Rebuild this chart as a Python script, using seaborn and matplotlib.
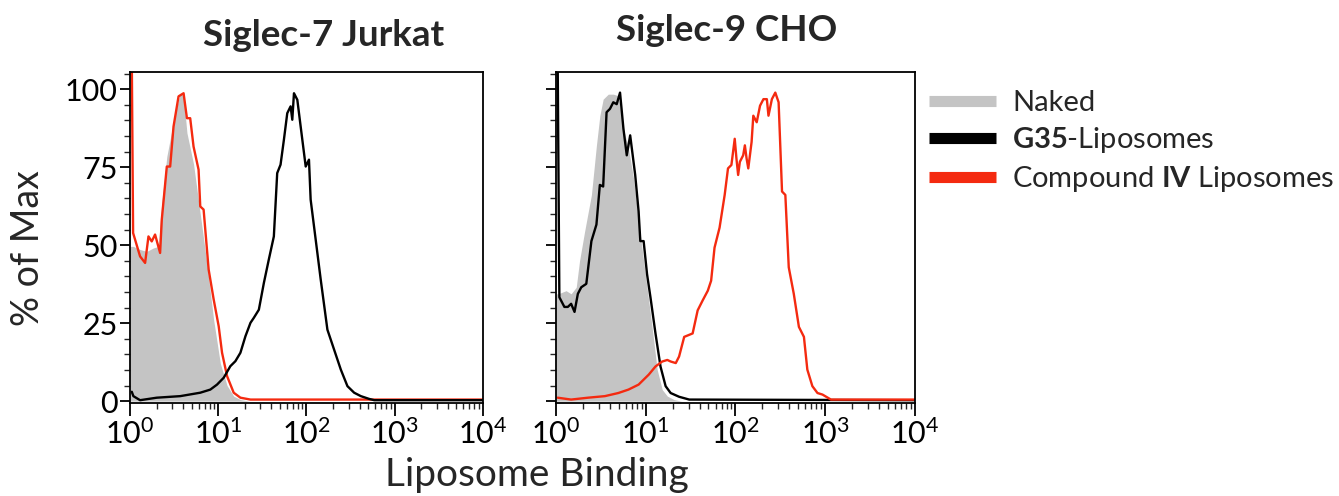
import numpy as np
import pandas as pd
import matplotlib
matplotlib.use("Agg")
import matplotlib.pyplot as plt
from matplotlib.ticker import LogLocator, FixedLocator, MultipleLocator, NullFormatter
from matplotlib.lines import Line2D
import seaborn as sns

# ---- data (x stored as log10 of binding intensity, y as % of max) ----
# Siglec-7 Jurkat
s7_naked_log = [0.0, 0.038, 0.114, 0.190, 0.265, 0.322, 0.360, 0.417, 0.512, 0.569, 0.607,
                0.645, 0.720, 0.796, 0.872, 0.948, 1.024, 1.100, 1.175, 1.251, 1.35, 4.0]
s7_naked_pct = [49.6, 49.6, 48.6, 48.0, 49.1, 49.6, 63.5, 78.4, 92.3, 98.7, 97.7,
                86.0, 76.0, 60.0, 44.0, 26.0, 12.0, 5.0, 1.6, 0.5, 0.0, 0.0]

s7_g35_log = [0.02, 0.038, 0.114, 0.303, 0.569, 0.796, 0.910, 0.986, 1.062, 1.137, 1.194,
              1.251, 1.308, 1.365, 1.403, 1.460, 1.517, 1.573, 1.630, 1.668, 1.706, 1.744,
              1.782, 1.820, 1.839, 1.858, 1.896, 1.934, 1.991, 2.028, 2.047, 2.104, 2.161,
              2.237, 2.313, 2.389, 2.464, 2.540, 2.616, 2.711, 2.768, 4.0]
s7_g35_pct = [3.0, 1.6, 0.3, 1.1, 1.6, 2.7, 3.7, 5.3, 7.5, 11.2, 12.8,
              15.5, 20.8, 25.1, 26.7, 29.3, 37.9, 45.4, 52.8, 73.1, 75.8, 83.8,
              92.3, 94.5, 90.2, 98.7, 96.6, 88.0, 75.2, 77.4, 64.6, 51.8, 39.0,
              22.9, 16.5, 10.1, 4.8, 2.7, 1.6, 0.7, 0.3, 0.3]

s7_cmpd_log = [0.02, 0.035, 0.114, 0.171, 0.209, 0.246, 0.284, 0.341, 0.360, 0.417, 0.455,
               0.493, 0.550, 0.607, 0.645, 0.682, 0.720, 0.777, 0.796, 0.834, 0.891, 0.948,
               1.005, 1.043, 1.100, 1.175, 1.251, 1.365, 4.0]
s7_cmpd_pct = [110.0, 53.9, 46.4, 44.3, 52.8, 51.2, 53.4, 47.5, 58.2, 75.2, 75.2,
               88.0, 97.7, 98.7, 90.7, 90.7, 81.6, 74.2, 62.4, 61.4, 42.2, 32.6,
               24.0, 15.5, 8.0, 2.7, 1.1, 0.5, 0.5]

# Siglec-9 CHO
s9_naked_log = [0.0, 0.026, 0.113, 0.169, 0.226, 0.263, 0.320, 0.395, 0.451, 0.489, 0.526,
                0.583, 0.639, 0.695, 0.752, 0.808, 0.865, 0.921, 0.996, 1.071, 1.128,
                1.184, 1.241, 1.316, 1.40, 4.0]
s9_naked_pct = [34.4, 34.4, 35.4, 34.4, 36.5, 45.0, 54.5, 66.1, 82.0, 91.5, 96.8,
                98.4, 98.4, 97.9, 87.3, 81.0, 71.4, 57.7, 40.7, 23.8, 10.1,
                3.7, 1.6, 0.5, 0.0, 0.0]

s9_g35_log = [0.019, 0.038, 0.094, 0.132, 0.169, 0.207, 0.244, 0.282, 0.338, 0.395, 0.451,
              0.489, 0.526, 0.564, 0.602, 0.639, 0.677, 0.714, 0.752, 0.789, 0.827, 0.883,
              0.921, 0.940, 0.977, 1.015, 1.053, 1.109, 1.165, 1.222, 1.278, 1.372, 1.485, 4.0]
s9_g35_pct = [110.0, 33.3, 30.2, 30.2, 31.2, 28.6, 34.4, 36.5, 37.6, 51.3, 56.6,
              69.3, 68.8, 92.6, 93.7, 95.8, 95.2, 98.9, 87.3, 78.8, 85.2, 72.5,
              60.8, 51.3, 51.3, 40.7, 33.3, 21.7, 11.1, 4.8, 2.6, 1.4, 0.5, 0.3]

s9_cmpd_log = [0.019, 0.169, 0.357, 0.545, 0.695, 0.808, 0.921, 1.034, 1.109, 1.184, 1.241,
               1.278, 1.335, 1.372, 1.429, 1.523, 1.579, 1.635, 1.692, 1.729, 1.767, 1.823,
               1.880, 1.917, 1.955, 1.992, 2.011, 2.030, 2.049, 2.086, 2.105, 2.124, 2.143,
               2.180, 2.199, 2.237, 2.274, 2.312, 2.350, 2.368, 2.406, 2.444, 2.481, 2.519,
               2.556, 2.594, 2.650, 2.707, 2.763, 2.801, 2.857, 2.914, 2.970, 3.064, 4.0]
s9_cmpd_pct = [1.1, 0.5, 1.1, 1.6, 2.6, 3.7, 5.3, 8.5, 11.1, 12.7, 13.2,
               12.7, 12.2, 14.3, 20.6, 21.7, 29.1, 32.3, 35.4, 38.6, 49.2, 55.6,
               66.1, 74.6, 75.7, 84.1, 77.8, 72.5, 76.7, 78.8, 82.0, 77.8, 74.6,
               83.1, 91.5, 89.4, 94.7, 96.8, 96.8, 91.5, 96.8, 98.9, 95.8, 67.2,
               66.1, 42.9, 34.4, 23.8, 20.6, 10.1, 4.8, 2.6, 2.1, 0.5, 0.5]

panel_titles = ["Siglec-7 Jurkat", "Siglec-9 CHO"]
legend_labels = ["Naked", r"$\mathbf{G35}$-Liposomes", r"Compound $\mathbf{IV}$ Liposomes"]
y_ticks = [0, 25, 50, 75, 100]

GREY = "#c4c4c4"
BLACK = "#000000"
RED = "#f42a10"

sns.set_theme(style="ticks")
plt.rcParams["font.family"] = ["Lato", "DejaVu Sans"]
plt.rcParams["mathtext.fontset"] = "custom"
plt.rcParams["mathtext.rm"] = "Lato"
plt.rcParams["mathtext.it"] = "Lato:italic"
plt.rcParams["mathtext.bf"] = "Lato:bold"


def make_frame(g35_log, g35_pct, cmpd_log, cmpd_pct):
    parts = []
    for name, lx, py in [("G35-Liposomes", g35_log, g35_pct),
                         ("Compound IV Liposomes", cmpd_log, cmpd_pct)]:
        parts.append(pd.DataFrame({"binding": 10 ** np.array(lx), "pct": py, "series": name}))
    return pd.concat(parts, ignore_index=True)


fig = plt.figure(figsize=(13.39, 4.96), dpi=100)
ax1 = fig.add_axes([0.0971, 0.1875, 0.2636, 0.6673])
ax2 = fig.add_axes([0.4152, 0.1875, 0.2681, 0.6673])

panels = [
    (ax1, s7_naked_log, s7_naked_pct, s7_g35_log, s7_g35_pct, s7_cmpd_log, s7_cmpd_pct),
    (ax2, s9_naked_log, s9_naked_pct, s9_g35_log, s9_g35_pct, s9_cmpd_log, s9_cmpd_pct),
]

for i, (ax, nl, npct, gl, gp, cl, cp) in enumerate(panels):
    ax.fill_between(10 ** np.array(nl), npct, 0, color=GREY, lw=0, zorder=1)
    df = make_frame(gl, gp, cl, cp)
    # the shifted curve is drawn on top in each panel
    hue_order = ["Compound IV Liposomes", "G35-Liposomes"] if i == 0 else ["G35-Liposomes", "Compound IV Liposomes"]
    sns.lineplot(data=df, x="binding", y="pct", hue="series", hue_order=hue_order,
                 palette={"G35-Liposomes": BLACK, "Compound IV Liposomes": RED},
                 estimator=None, sort=False, units="series", lw=1.7, legend=False, ax=ax)
    ax.set_xscale("log")
    ax.set_xlim(1, 1e4)
    ax.set_ylim(-0.6, 105.5)
    ax.set_xlabel("")
    ax.set_ylabel("")
    ax.xaxis.set_major_locator(LogLocator(base=10, numticks=10))
    ax.xaxis.set_minor_locator(LogLocator(base=10, subs=np.arange(2, 10), numticks=10))
    ax.xaxis.set_minor_formatter(NullFormatter())
    ax.yaxis.set_major_locator(FixedLocator(y_ticks))
    ax.yaxis.set_minor_locator(MultipleLocator(5))
    ax.tick_params(axis="both", which="major", direction="out", length=7, width=1.3,
                   labelsize=22, colors="black", pad=2)
    ax.tick_params(axis="both", which="minor", direction="out", length=4, width=1.0)
    ax.tick_params(axis="x", which="major", length=9)
    for sp in ax.spines.values():
        sp.set_visible(True)
        sp.set_linewidth(1.3)
        sp.set_color("black")
    if i == 1:
        ax.set_yticklabels([])

fig.text(0.242, 0.929, panel_titles[0], ha="center", va="center", fontsize=26.5, fontweight="bold")
fig.text(0.5425, 0.939, panel_titles[1], ha="center", va="center", fontsize=26.5, fontweight="bold")
fig.text(0.401, 0.042, "Liposome Binding", ha="center", va="center", fontsize=28)
fig.text(0.021, 0.5, "% of Max", ha="center", va="center", fontsize=27, rotation=90)

handles = [Line2D([0], [0], color=c, lw=8, solid_capstyle="butt") for c in [GREY, BLACK, RED]]
fig.legend(handles, legend_labels, loc="upper left", bbox_to_anchor=(0.694, 0.818),
           frameon=False, fontsize=21, handlelength=2.3, handletextpad=0.55,
           labelspacing=0.31, borderpad=0, borderaxespad=0)

fig.savefig("out.png", dpi=100)
